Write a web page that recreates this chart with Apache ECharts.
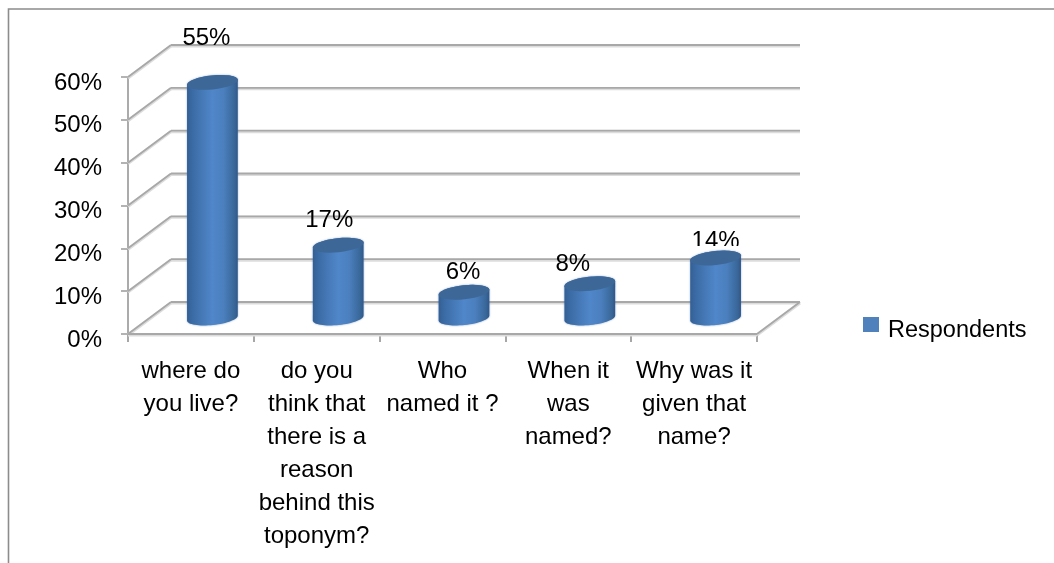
<!DOCTYPE html>
<html>
<head>
<meta charset="utf-8">
<style>html,body{margin:0;padding:0;background:#fff}#c{width:1054px;height:563px}</style>
<script src="https://cdn.jsdelivr.net/npm/echarts@6/dist/echarts.min.js"></script>
</head>
<body>
<div id="c"></div>
<script>
const categories = ['where do\nyou live?', 'do you\nthink that\nthere is a\nreason\nbehind this\ntoponym?', 'Who\nnamed it ?', 'When it\nwas\nnamed?', 'Why was it\ngiven that\nname?'];
const respondents = [55, 17, 6, 8, 14];
const gridTicks = [0, 10, 20, 30, 40, 50, 60];
const seriesName = 'Respondents';

// label placement relative to the top of each cylinder, as in the reference
const labelShift = [[-6, -44], [-9, -25], [-1, -20], [-17, -19], [0, -17]];
const labelClipBelow = [40, 7, 40, 40, 5];

const FONT = '"Liberation Sans", Arial, sans-serif';
const DEPTH_X = 43, DEPTH_Y = 32, RX = 25.5, RY = 7, TILT = -6 * Math.PI / 180;

function ellipsePoints(cx, cy, from, to) {
  const pts = [], n = 32;
  for (let i = 0; i <= n; i++) {
    const t = from + (to - from) * i / n;
    const x = RX * Math.cos(t), y = RY * Math.sin(t);
    pts.push([cx + x * Math.cos(TILT) - y * Math.sin(TILT), cy + x * Math.sin(TILT) + y * Math.cos(TILT)]);
  }
  return pts;
}

function wallLine(x1, y1, x2, y2) {
  return [
    { type: 'line', z2: 1, shape: { x1, y1: y1 + 1, x2, y2: y2 + 1 }, style: { stroke: '#dcdcdc', lineWidth: 3 } },
    { type: 'line', z2: 2, shape: { x1, y1, x2, y2 }, style: { stroke: '#a8a8a8', lineWidth: 1.8 } }
  ];
}

function renderWall(params, api) {
  const v = api.value(0);
  const gridRect = params.coordSys;
  const y = api.coord([0, v])[1];
  const xl = gridRect.x, xr = gridRect.x + gridRect.width;
  let children = [
    ...wallLine(xl, y, xl + DEPTH_X, y - DEPTH_Y),
    ...wallLine(xl + DEPTH_X, y - DEPTH_Y, xr + DEPTH_X, y - DEPTH_Y)
  ];
  if (v === 0) {
    children = children.concat(
      wallLine(xl, y, xr, y),
      wallLine(xr, y, xr + DEPTH_X, y - DEPTH_Y)
    );
  }
  return { type: 'group', children };
}

function renderCylinder(params, api) {
  const i = params.dataIndex;
  const base = api.coord([i, 0]);
  const top = api.coord([i, api.value(1)]);
  const cx = base[0] + DEPTH_X / 2;
  const yb = base[1] - DEPTH_Y / 2;
  const yt = top[1] - DEPTH_Y / 2;
  const body = ellipsePoints(cx, yb, 0, Math.PI).concat(ellipsePoints(cx, yt, Math.PI, 2 * Math.PI));
  const shift = labelShift[i];
  const lx = cx + shift[0], ly = yt + shift[1];
  return {
    type: 'group',
    children: [
      {
        type: 'polygon', shape: { points: body },
        style: {
          fill: new echarts.graphic.LinearGradient(0, 0, 1, 0, [
            { offset: 0, color: '#335f94' },
            { offset: 0.12, color: '#3c6ca6' },
            { offset: 0.5, color: '#5087ca' },
            { offset: 0.72, color: '#4b7fbe' },
            { offset: 0.93, color: '#396799' },
            { offset: 1, color: '#30578a' }
          ]),
          shadowBlur: 2, shadowColor: 'rgba(60,105,165,0.6)'
        }
      },
      {
        type: 'polygon', shape: { points: ellipsePoints(cx, yt, 0, 2 * Math.PI) },
        style: { fill: '#3d6797' }
      },
      {
        type: 'text',
        clipPath: { type: 'rect', shape: { x: lx - 60, y: ly - 40, width: 120, height: 40 + labelClipBelow[i] } },
        style: {
          text: api.value(1) + '%', x: lx, y: ly, align: 'center', verticalAlign: 'middle',
          fill: '#000', font: '24px ' + FONT
        }
      }
    ]
  };
}

const chart = echarts.init(document.getElementById('c'), null, { renderer: 'canvas' });
chart.setOption({
  animation: false,
  backgroundColor: '#fff',
  graphic: [{
    type: 'polyline', silent: true, z: -1,
    shape: { points: [[8.5, 563], [8.5, 9], [1054, 9]] },
    style: { fill: null, stroke: '#8c8c8c', lineWidth: 1.6 }
  }],
  grid: { left: 128, top: 77, width: 629, height: 257, containLabel: false },
  legend: {
    data: [seriesName], left: 858, top: 312, itemWidth: 16, itemHeight: 15, icon: 'rect',
    formatter: '{a|{name}}',
    textStyle: { rich: { a: { fontFamily: FONT, fontSize: 23.5, color: '#000', padding: [12, 0, 0, 4] } } },
    itemGap: 0
  },
  xAxis: {
    type: 'category', data: categories,
    axisLine: { show: false },
    axisTick: { show: true, length: 8, alignWithLabel: false, lineStyle: { color: '#8a8a8a', width: 1.5 } },
    axisLabel: { interval: 0, margin: 21, fontFamily: FONT, fontSize: 24, lineHeight: 33, color: '#000' },
    splitLine: { show: false }
  },
  yAxis: {
    type: 'value', min: 0, max: 60, interval: 10,
    axisLine: { show: true, lineStyle: { color: '#ababab', width: 2 } },
    axisTick: { show: true, length: 7, lineStyle: { color: '#9a9a9a', width: 1.5 } },
    axisLabel: { formatter: '{value}%', margin: 26, fontFamily: FONT, fontSize: 24, color: '#000', verticalAlign: 'top', lineHeight: 12 },
    splitLine: { show: false }
  },
  series: [
    {
      type: 'custom', name: 'walls', coordinateSystem: 'cartesian2d', silent: true, clip: false, z: 1,
      renderItem: renderWall, encode: { y: 0 }, data: gridTicks.map(v => [v])
    },
    {
      type: 'custom', name: seriesName, coordinateSystem: 'cartesian2d', clip: false, z: 2,
      renderItem: renderCylinder, itemStyle: { color: '#4f81bd' },
      encode: { x: 0, y: 1 }, data: respondents.map((v, i) => [i, v])
    }
  ]
});
</script>
</body>
</html>
